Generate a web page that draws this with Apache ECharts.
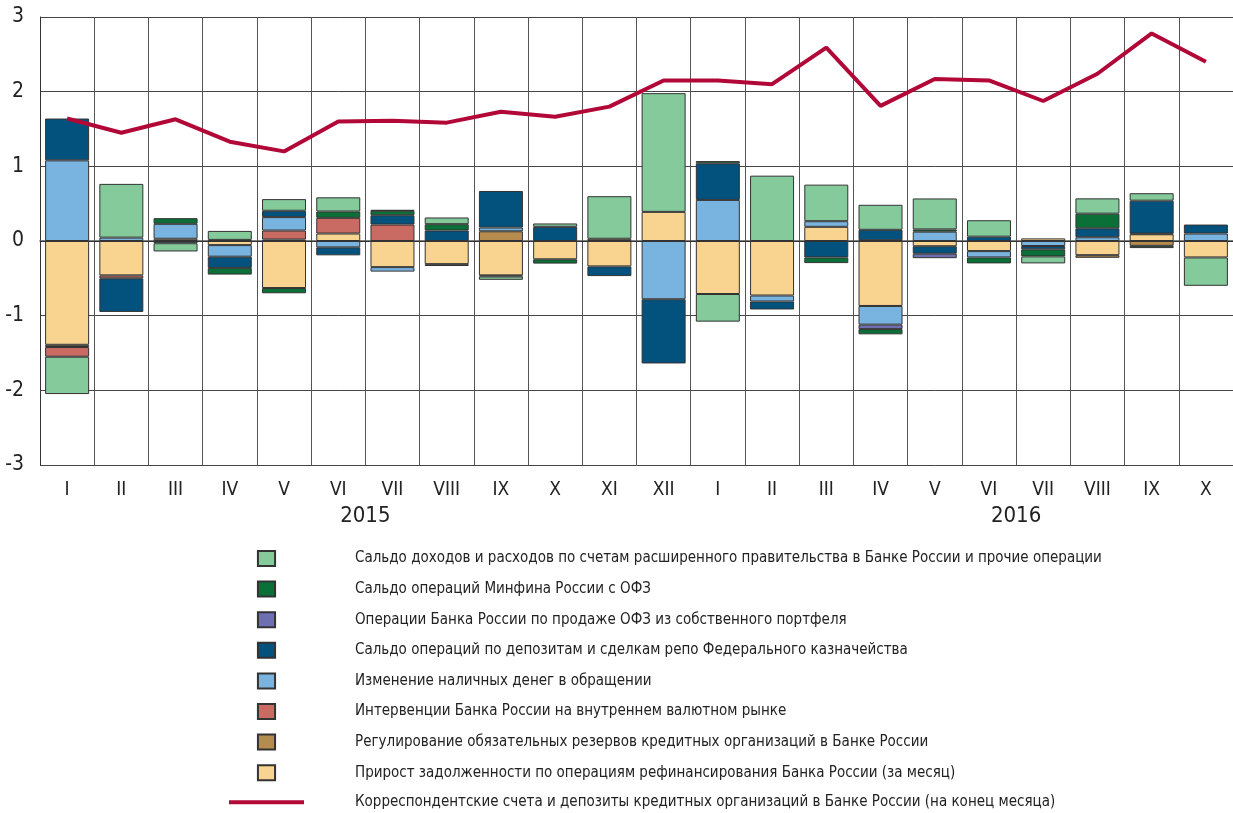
<!DOCTYPE html>
<html>
<head>
<meta charset="utf-8">
<script src="https://cdn.jsdelivr.net/npm/echarts@6/dist/echarts.min.js"></script>
<style>
  html, body { margin: 0; padding: 0; background: #fff; }
  #chart { width: 1233px; height: 813px; }
</style>
</head>
<body>
<div id="chart"></div>
<script>
// месяцы
var months = ["I", "II", "III", "IV", "V", "VI", "VII", "VIII", "IX", "X", "XI", "XII",
  "I", "II", "III", "IV", "V", "VI", "VII", "VIII", "IX", "X"];
var yearLabels = ["2015", "2016"];

// трлн руб., порядок — как в стеке от нуля
var refinancing = [-1.39, -0.46, 0.03, -0.055, -0.63, 0.10, -0.35, -0.31, -0.46, -0.245, -0.34, 0.39,
  -0.71, -0.73, 0.19, -0.87, -0.07, -0.135, 0.035, -0.19, 0.09, -0.22];
var reserves = [-0.03, 0, 0, 0.015, 0.02, 0, 0, 0, 0.13, 0, 0.03, 0,
  0, 0, 0, 0.01, 0, 0, 0, -0.035, -0.065, 0];
var interventions = [-0.13, -0.04, 0, 0, 0.12, 0.21, 0.22, 0, 0, 0, 0, 0,
  0, 0, 0, 0, 0, 0, 0, 0, 0, 0];
var cash = [1.08, 0.045, 0.20, -0.155, 0.18, -0.085, -0.06, 0, 0.05, 0, 0, -0.78,
  0.55, -0.08, 0.075, -0.25, 0.125, -0.085, -0.067, 0.05, 0.01, 0.10];
var treasury = [0.56, -0.45, -0.03, -0.15, 0.085, -0.107, 0.125, 0.14, 0.49, 0.19, -0.13, -0.86,
  0.49, -0.107, -0.22, 0.14, -0.10, 0.058, -0.045, 0.12, 0.44, 0.12];
var ofzSales = [0, 0, 0, 0, 0, 0, 0, -0.025, 0, 0, 0, 0,
  0, 0, 0, -0.06, -0.06, 0, 0, 0, 0, 0];
var minfinOfz = [0, 0, 0.076, -0.09, -0.07, 0.085, 0.06, 0.085, -0.015, -0.058, 0, 0,
  0.03, 0, -0.076, -0.07, 0.03, -0.08, -0.094, 0.196, -0.03, 0];
var government = [-0.50, 0.72, -0.11, 0.12, 0.156, 0.19, 0.01, 0.09, -0.045, 0.045, 0.57, 1.59,
  -0.37, 0.875, 0.49, 0.335, 0.415, 0.22, -0.094, 0.205, 0.10, -0.38];
var corrAccounts = [1.64, 1.45, 1.63, 1.33, 1.20, 1.60, 1.61, 1.585, 1.73, 1.665, 1.80, 2.15,
  2.15, 2.10, 2.59, 1.81, 2.17, 2.15, 1.875, 2.24, 2.78, 2.40];

var font = "'Liberation Sans Narrow', 'DejaVu Sans Condensed', sans-serif";

var barDefs = [
  { name: "Прирост задолженности по операциям рефинансирования Банка России (за месяц)", data: refinancing, color: "#F8D490" },
  { name: "Регулирование обязательных резервов кредитных организаций в Банке России", data: reserves, color: "#B58C4E" },
  { name: "Интервенции Банка России на внутреннем валютном рынке", data: interventions, color: "#CA6B63" },
  { name: "Изменение наличных денег в обращении", data: cash, color: "#79B4E1" },
  { name: "Сальдо операций по депозитам и сделкам репо Федерального казначейства", data: treasury, color: "#03517D" },
  { name: "Операции Банка России по продаже ОФЗ из собственного портфеля", data: ofzSales, color: "#6E6FB3" },
  { name: "Сальдо операций Минфина России с ОФЗ", data: minfinOfz, color: "#0A7038" },
  { name: "Сальдо доходов и расходов по счетам расширенного правительства в Банке России и прочие операции", data: government, color: "#84CA9B" }
];
var lineName = "Корреспондентские счета и депозиты кредитных организаций в Банке России (на конец месяца)";

var series = barDefs.map(function (d) {
  return {
    name: d.name,
    type: "bar",
    stack: "total",
    barWidth: 44,
    itemStyle: { color: d.color, borderColor: "#333", borderWidth: 1 },
    data: d.data.map(function (v) { return v === 0 ? "-" : v; })
  };
});
series.push({
  name: lineName,
  type: "line",
  symbol: "none",
  z: 5,
  lineStyle: { color: "#B20838", width: 4 },
  itemStyle: { color: "#B20838" },
  data: corrAccounts,
  markLine: {
    silent: true,
    symbol: "none",
    label: { show: false },
    lineStyle: { color: "#333", width: 1, type: "solid" },
    data: [{ yAxis: 0 }]
  }
});

var legendData = barDefs.slice().reverse().map(function (d) {
  return { name: d.name, icon: "path://M0,0h16v14h-16z" };
});
legendData.push({ name: lineName, icon: "path://M0,0h75v4h-75z", itemStyle: { color: "#B20838", borderWidth: 0 } });

var option = {
  animation: false,
  textStyle: { fontFamily: font },
  grid: { left: 40, top: 17, width: 1195, height: 448 },
  xAxis: [
    {
      type: "category",
      data: months,
      boundaryGap: true,
      axisLine: { show: true, lineStyle: { color: "#555", width: 1.5 } },
      axisTick: { show: false },
      axisLabel: { color: "#222", fontSize: 19, margin: 16, fontFamily: font, interval: 0 },
      splitLine: { show: true, interval: 0, lineStyle: { color: "#555", width: 1 } }
    },
    {
      type: "value",
      min: 0,
      max: 22,
      interval: 6,
      position: "bottom",
      axisLine: { show: false },
      axisTick: { show: false },
      splitLine: { show: false },
      axisLabel: {
        color: "#222", fontSize: 22, margin: 40, fontFamily: font,
        showMinLabel: false, showMaxLabel: false,
        formatter: function (v) {
          if (v === 6) return yearLabels[0];
          if (v === 18) return yearLabels[1];
          return "";
        }
      }
    }
  ],
  yAxis: {
    type: "value",
    min: -3,
    max: 3,
    interval: 1,
    axisLine: { show: true, lineStyle: { color: "#333", width: 1 } },
    axisTick: { show: false },
    axisLabel: { color: "#222", fontSize: 21, margin: 16, fontFamily: font },
    splitLine: { show: true, lineStyle: { color: "#444", width: 1 } }
  },
  legend: {
    type: "plain",
    orient: "vertical",
    left: 224,
    top: 545,
    height: 320,
    itemWidth: 75,
    itemHeight: 15,
    itemGap: 13.6,
    selectedMode: false,
    data: legendData,
    formatter: function (name) { return "{t|" + name + "}"; },
    textStyle: {
      fontFamily: font,
      fontSize: 15,
      color: "#222",
      rich: { t: { fontFamily: font, fontSize: 15, lineHeight: 20, color: "#222", padding: [0, 0, 0, 46] } }
    }
  },
  series: series
};

var myChart = echarts.init(document.getElementById("chart"));
myChart.setOption(option);
</script>
</body>
</html>
